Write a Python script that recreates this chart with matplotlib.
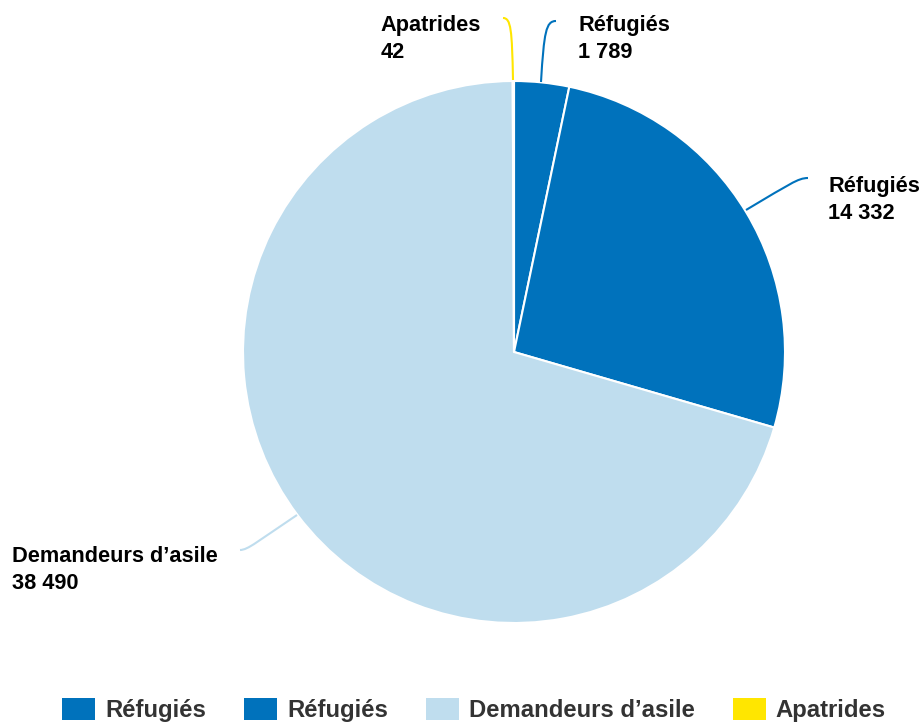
import matplotlib.pyplot as plt
from matplotlib.path import Path
from matplotlib.patches import PathPatch, Patch

plt.rcParams['font.family'] = ['Liberation Sans', 'DejaVu Sans']

# data
labels = ['Réfugiés', 'Réfugiés', 'Demandeurs d\u2019asile', 'Apatrides']
values = [1789, 14332, 38490, 42]
value_text = ['1 789', '14 332', '38 490', '42']
colors = ['#0072BC', '#0072BC', '#BFDDEE', '#FFE600']

W, H = 922, 726
fig = plt.figure(figsize=(W / 100, H / 100), dpi=100)

cx, cy, R = 514, 352, 271
ax = fig.add_axes([(cx - R) / W, (H - cy - R) / H, 2 * R / W, 2 * R / H])
ax.pie(values, colors=colors, startangle=90, counterclock=False,
       radius=1, wedgeprops=dict(edgecolor='white', linewidth=1.5))
ax.set_xlim(-1, 1)
ax.set_ylim(-1, 1)
ax.set_aspect('equal')
ax.axis('off')


def px(x, y):
    # pixel coords (from top-left) -> data coords
    return ((x - cx) / R, (cy - y) / R)


# connector curves (cubic bezier, pixel coords) and label anchors
connectors = [
    [(541, 82), (544, 32), (546, 21), (556, 21)],
    [(746, 210), (790, 184), (798, 178), (808, 178)],
    [(297, 515), (258, 541), (248, 550), (240, 550)],
    [(513, 80), (512, 30), (511, 18), (503, 18)],
]
text_pos = [(578, 39, 'left'), (828, 200, 'left'), (218, 570, 'right'), (481, 39, 'right')]

for i in range(len(values)):
    verts = [px(*p) for p in connectors[i]]
    codes = [Path.MOVETO, Path.CURVE4, Path.CURVE4, Path.CURVE4]
    ax.add_patch(PathPatch(Path(verts, codes), fill=False, edgecolor=colors[i],
                           linewidth=1.5, clip_on=False))
    tx, ty, ha = text_pos[i]
    ax.text(*px(tx, ty), labels[i] + '\n' + value_text[i], ha=ha, va='center',
            multialignment='left', fontsize=15.7, fontweight='bold', color='black',
            linespacing=1.4, clip_on=False)

# legend
handles = [Patch(facecolor=c, edgecolor='none') for c in colors]
leg = fig.legend(handles, labels, loc='center', bbox_to_anchor=(474 / W, 1 - 710 / H),
                 ncol=4, frameon=False, handlelength=1.37, handleheight=1.04,
                 handletextpad=0.42, columnspacing=1.6,
                 prop=dict(size=17.2, weight='bold'))
for t in leg.get_texts():
    t.set_color('#333333')

fig.savefig('out.png', dpi=100)
